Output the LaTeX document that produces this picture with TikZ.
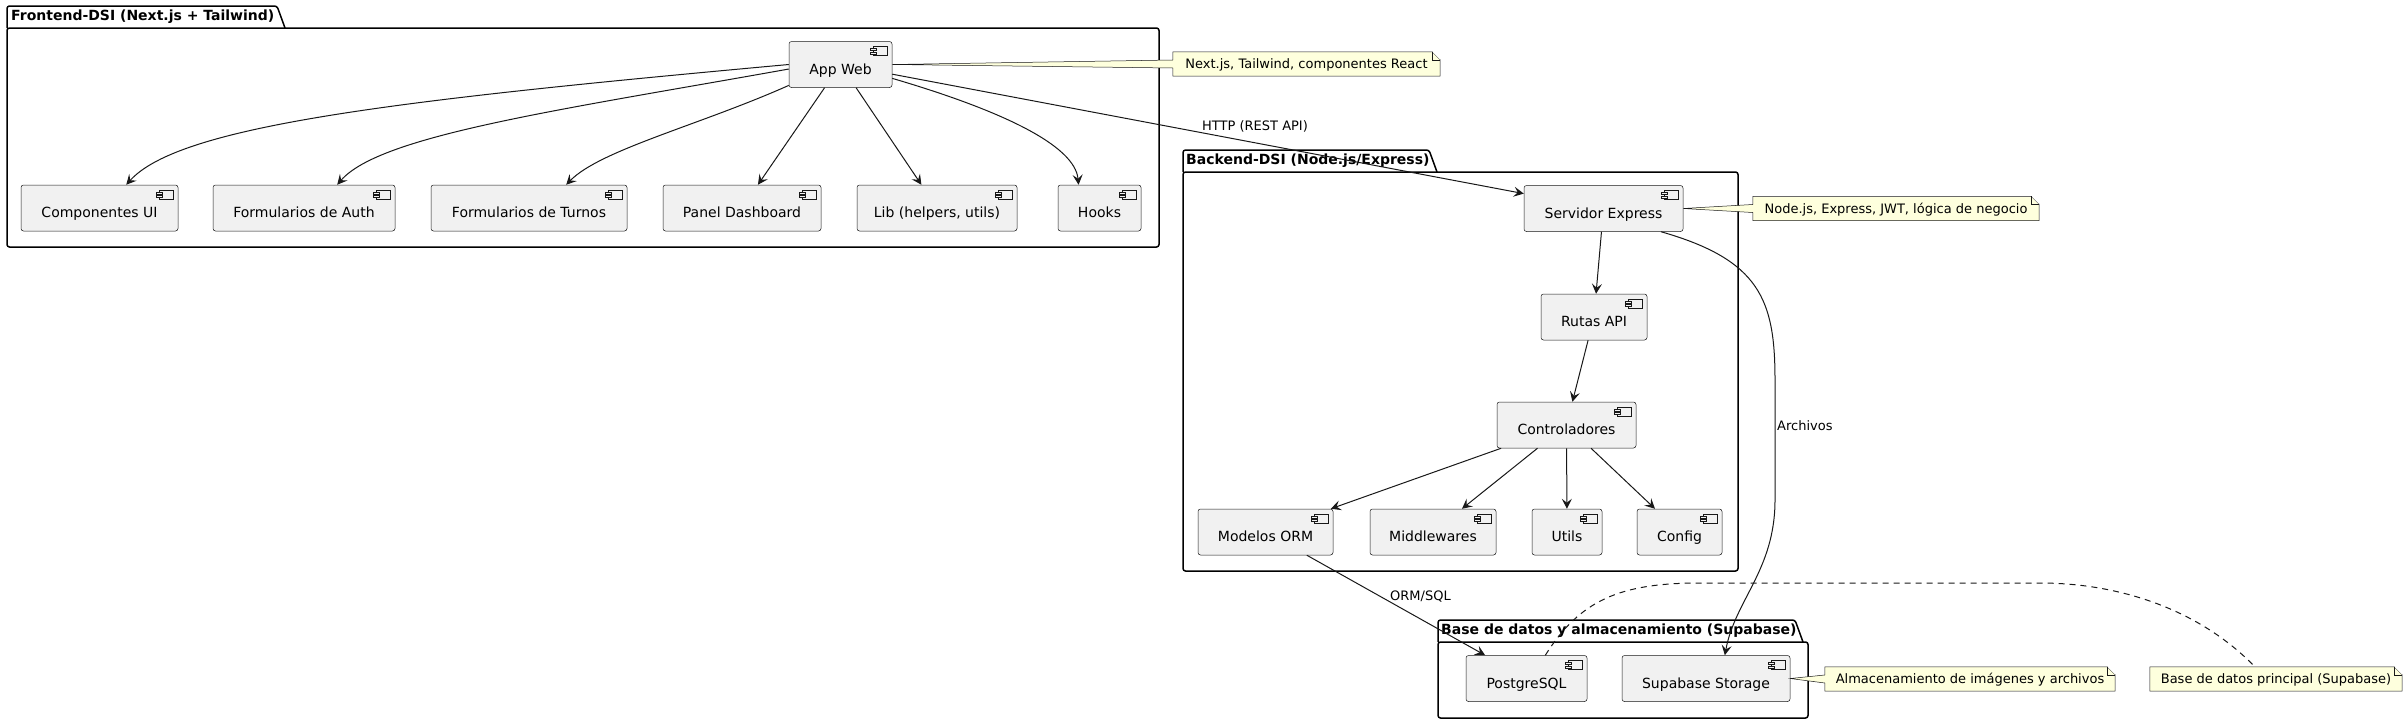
\documentclass[tikz,border=0pt]{standalone}
\usepackage{fontspec}
\setmainfont{DejaVu Sans}
\usetikzlibrary{arrows.meta,calc}
\definecolor{compfill}{HTML}{F1F1F1}
\definecolor{compline}{HTML}{181818}
\definecolor{notefill}{HTML}{FEFFDD}
\begin{document}
\begin{tikzpicture}
		[x=1pt,y=-1pt,
		comp/.style={draw=compline,line width=0.5pt,fill=compfill,rounded corners=2.5pt,minimum height=46pt,inner sep=0pt,text height=19pt,text depth=0pt,font=\fontsize{14}{16}\selectfont},
		pkg/.style={draw=black,line width=1.5pt,rounded corners=2.5pt},
		pkgtitle/.style={anchor=west,inner sep=0pt,font=\fontsize{14}{16}\selectfont\bfseries},
		notebox/.style={fill=notefill,minimum height=24pt,inner sep=0pt,text height=9.5pt,text depth=0pt,font=\fontsize{13}{15}\selectfont},
		noteline/.style={draw=compline,line width=0.5pt},
		conn/.style={draw=compline,line width=1pt,-{Stealth[length=10pt,width=10pt,inset=4pt]}},
		lbl/.style={anchor=west,inner sep=0pt,font=\fontsize{13}{15}\selectfont}]
		\useasboundingbox (0,0) rectangle (2407,723);
		% packages
		\draw[pkg] (7,28) -- (7,6) -- (277,6) -- (285,28);
		\draw[pkg] (7,28) rectangle (1159,247);
		\node[pkgtitle] (pfront) at (11,17) {Frontend-DSI (Next.js + Tailwind)};
		\draw[pkg] (1183,172) -- (1183,150) -- (1429,150) -- (1437,172);
		\draw[pkg] (1183,172) rectangle (1738,571);
		\node[pkgtitle] (pback) at (1186,161) {Backend-DSI (Node.js/Express)};
		\draw[pkg] (1438,642) -- (1438,620) -- (1795,620) -- (1803,642);
		\draw[pkg] (1438,642) rectangle (1808,718);
		\node[pkgtitle] (pdb) at (1441,631) {Base de datos y almacenamiento (Supabase)};
		% components
		\node[comp,minimum width=103pt] (app) at (840.5,64.5) {App Web};
		\node[comp,minimum width=157pt] (ui) at (99.5,208) {Componentes UI};
		\node[comp,minimum width=182pt] (auth) at (304,208) {Formularios de Auth};
		\node[comp,minimum width=196pt] (turnos) at (529,208) {Formularios de Turnos};
		\node[comp,minimum width=158pt] (panel) at (742,208) {Panel Dashboard};
		\node[comp,minimum width=160pt] (lib) at (937,208) {Lib (helpers, utils)};
		\node[comp,minimum width=83pt] (hooks) at (1099.5,208) {Hooks};
		\node[comp,minimum width=159pt] (serv) at (1603.5,208.5) {Servidor Express};
		\node[comp,minimum width=106pt] (rutas) at (1594,317) {Rutas API};
		\node[comp,minimum width=139pt] (ctrl) at (1566.5,425) {Controladores};
		\node[comp,minimum width=135pt] (orm) at (1265.5,532) {Modelos ORM};
		\node[comp,minimum width=126pt] (mid) at (1433,532) {Middlewares};
		\node[comp,minimum width=70pt] (utils) at (1567,532) {Utils};
		\node[comp,minimum width=85pt] (config) at (1679.5,532) {Config};
		\node[comp,minimum width=121pt] (pg) at (1526.5,678.5) {PostgreSQL};
		\node[comp,minimum width=168pt] (store) at (1706,678.5) {Supabase Storage};
		\foreach \c in {app,ui,auth,turnos,panel,lib,hooks,serv,rutas,ctrl,orm,mid,utils,config,pg,store}
		{
			\draw[noteline,fill=compfill] ($(\c.north east)+(-19,5)$) rectangle ($(\c.north east)+(-5,14)$);
			\draw[noteline,fill=compfill] ($(\c.north east)+(-22,7)$) rectangle ($(\c.north east)+(-16,9)$);
			\draw[noteline,fill=compfill] ($(\c.north east)+(-22,10.5)$) rectangle ($(\c.north east)+(-16,12.5)$);
		}
		% connectors
		\draw[conn] (app.west) .. controls (400,100) and (180,125) .. (ui.41);
		\draw[conn] (app.185) .. controls (560,110) and (380,135) .. (auth.35);
		\draw[conn] (app.202) .. controls (700,125) and (600,150) .. (turnos.32);
		\draw[conn] (app) -- (panel);
		\draw[conn] (app) -- (lib);
		\draw[conn] (app.-15) .. controls (1000,110) and (1075,145) .. (hooks.132);
		\draw[conn] (app) -- (serv);
		\node[lbl] (lhttp) at (1202,126) {HTTP (REST API)};
		\draw[conn] (serv) -- (rutas);
		\draw[conn] (rutas) -- (ctrl);
		\foreach \c in {orm,mid,utils,config}
		{
			\draw[conn] (ctrl) -- (\c);
		}
		\draw[conn] (orm) -- (pg);
		\node[lbl] (lorm) at (1390,597) {ORM/SQL};
		\draw[conn] (serv.-22) .. controls (1760,260) and (1775,300) .. (1775,380) -- (1775,500) .. controls (1775,570) and (1735,600) .. (store.51);
		\node[lbl] (larch) at (1777,426) {Archivos};
		% notes
		\node[notebox,minimum width=267pt] (n1) at (1306.5,64) {Next.js, Tailwind, componentes React};
		\node[notebox,minimum width=286pt] (n2) at (1896,208.5) {Node.js, Express, JWT, lógica de negocio};
		\node[notebox,minimum width=290pt] (n3) at (1970,679) {Almacenamiento de imágenes y archivos};
		\node[notebox,minimum width=252pt] (n4) at (2276,679) {Base de datos principal (Supabase)};
		\foreach \n/\t in {n1/app,n2/serv,n3/store}
		{
			\fill[notefill] ($(\n.west)+(0,-4)$) -- (\t.east) -- ($(\n.west)+(0,4)$) -- cycle;
			\draw[noteline] (\n.south west) -- (\n.south east) -- ($(\n.north east)+(0,8)$) -- ($(\n.north east)+(-8,0)$) -- (\n.north west) -- ($(\n.west)+(0,-4)$) -- (\t.east) -- ($(\n.west)+(0,4)$) -- cycle;
		}
		\draw[noteline] (n4.south west) -- (n4.south east) -- ($(n4.north east)+(0,8)$) -- ($(n4.north east)+(-8,0)$) -- (n4.north west) -- cycle;
		\foreach \n in {n1,n2,n3,n4}
		{
			\fill[white] ($(\n.north east)+(-7.7,0)$) -- (\n.north east) -- ($(\n.north east)+(0,7.7)$) -- cycle;
			\draw[noteline] ($(\n.north east)+(-8,0)$) -- ($(\n.north east)+(-8,8)$) -- ($(\n.north east)+(0,8)$);
		}
		\draw[compline,line width=1pt,dash pattern=on 6pt off 5pt] (pg.51) .. controls (1580,600) and (1620,583) .. (1700,583) -- (2040,583) .. controls (2120,583) and (2200,610) .. (n4.150);
	\end{tikzpicture}
\end{document}
